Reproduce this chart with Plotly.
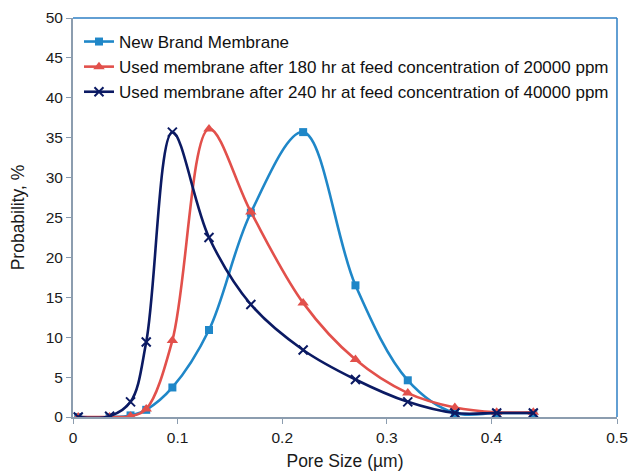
import plotly.graph_objects as go

# Pore size distribution of membranes (pore size in µm, probability in %)
pore_size = [0.005, 0.035, 0.055, 0.07, 0.095, 0.13, 0.17, 0.22, 0.27, 0.32, 0.365, 0.405, 0.44]
new_brand = [0, 0, 0.2, 0.9, 3.7, 10.9, 25.6, 35.7, 16.5, 4.6, 0.5, 0.5, 0.5]
used_180hr = [0, 0, 0.1, 1.0, 9.6, 36.1, 25.7, 14.3, 7.2, 3.0, 1.2, 0.6, 0.6]
used_240hr = [0, 0.1, 1.9, 9.4, 35.7, 22.5, 14.1, 8.4, 4.7, 1.9, 0.5, 0.5, 0.5]

series_names = [
    "New Brand Membrane",
    "Used membrane after 180 hr at feed concentration of 20000 ppm",
    "Used membrane after 240 hr at feed concentration of 40000 ppm",
]

x_ticks = [0, 0.1, 0.2, 0.3, 0.4, 0.52]
x_tick_text = ["0", "0.1", "0.2", "0.3", "0.4", "0.5"]

BLUE = "#1F87C8"
RED = "#E2504B"
NAVY = "#0B1A63"
FONT = "Liberation Sans, Arial, sans-serif"

fig = go.Figure()
fig.add_trace(go.Scatter(
    x=pore_size, y=new_brand, name=series_names[0], mode="lines+markers",
    line=dict(color=BLUE, width=2.6, shape="spline", smoothing=1),
    marker=dict(symbol="square", size=8, color=BLUE),
))
fig.add_trace(go.Scatter(
    x=pore_size, y=used_180hr, name=series_names[1], mode="lines+markers",
    line=dict(color=RED, width=2.6, shape="spline", smoothing=1),
    marker=dict(symbol="triangle-up", size=10, color=RED),
))
fig.add_trace(go.Scatter(
    x=pore_size, y=used_240hr, name=series_names[2], mode="lines+markers",
    line=dict(color=NAVY, width=2.6, shape="spline", smoothing=1),
    marker=dict(symbol="x-thin", size=9, line=dict(color=NAVY, width=2)),
))

axis_grey = "#8C9DAF"
fig.update_layout(
    width=630, height=471,
    margin=dict(l=73, r=13, t=18, b=54),
    paper_bgcolor="white", plot_bgcolor="white",
    font=dict(family=FONT, size=15.5, color="#1A1A1A"),
    showlegend=True,
    legend=dict(
        x=0.011, y=0.985, xanchor="left", yanchor="top",
        bgcolor="rgba(255,255,255,0)", font=dict(size=17, color="#111111"),
        itemwidth=30, tracegroupgap=0,
    ),
    xaxis=dict(
        range=[0, 0.52], tickvals=x_ticks, ticktext=x_tick_text,
        showgrid=False, zeroline=False, automargin=False,
        showline=True, linecolor=axis_grey, linewidth=2,
        ticks="outside", ticklen=5, tickcolor=axis_grey,
        title=dict(text="Pore Size (µm)", font=dict(size=17.5), standoff=10),
    ),
    yaxis=dict(
        range=[0, 50], dtick=5,
        showgrid=False, zeroline=False, automargin=False,
        showline=True, linecolor=axis_grey, linewidth=2,
        ticks="outside", ticklen=5, tickcolor=axis_grey,
        title=dict(text="Probability, %", font=dict(size=17.5), standoff=17),
    ),
    shapes=[
        dict(type="line", xref="paper", yref="paper", x0=0, x1=1, y0=1, y1=1,
             line=dict(color="#2E7FC4", width=1.5)),
        dict(type="line", xref="paper", yref="paper", x0=1, x1=1, y0=0, y1=1,
             line=dict(color="#2E7FC4", width=1.5)),
    ],
)

fig.write_html("out.html")
